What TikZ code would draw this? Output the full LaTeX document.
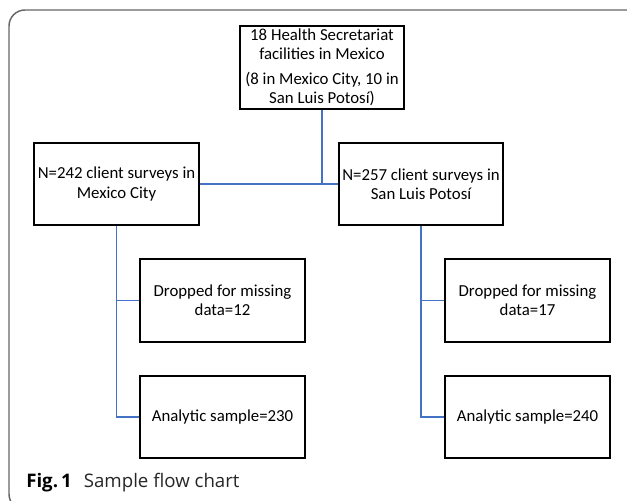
\documentclass[tikz,border=0pt]{standalone}
\usepackage{fontspec}
\setmainfont{Carlito}
\newfontfamily\capfont{Open Sans}
\begin{document}
\begin{tikzpicture}[x=0.75pt,y=-0.75pt,
  flowbox/.style={draw=black,line width=0.9pt,fill=white,align=center,
    inner sep=0pt,font=\fontsize{12.6pt}{14.4pt}\selectfont},
  link/.style={draw=linkblue,line width=0.9pt},
  frame/.style={draw=black!60,line width=1.1pt}]
\definecolor{linkblue}{HTML}{4472C4}
\useasboundingbox (0,0) rectangle (627,500);

% outer figure frame, open to the right and below
\draw[frame,rounded corners=12] (640,10) -- (9,10) -- (9,510) -- (40,510);

% boxes
\node[flowbox,minimum width=164*0.75pt,minimum height=83*0.75pt] (top) at (322,67.5)
  {18 Health Secretariat\\facilities in Mexico\\[4.5pt](8 in Mexico City, 10 in\\San Luis Potos\'{\i})};
\node[flowbox,minimum width=165*0.75pt,minimum height=82*0.75pt] (mx) at (116.5,184)
  {N=242 client surveys in\\Mexico City};
\node[flowbox,minimum width=164*0.75pt,minimum height=82*0.75pt] (slp) at (421,184)
  {N=257 client surveys in\\San Luis Potos\'{\i}};
\node[flowbox,minimum width=165*0.75pt,minimum height=83*0.75pt] (dropmx) at (222.5,300.5)
  {Dropped for missing\\data=12};
\node[flowbox,minimum width=165*0.75pt,minimum height=82*0.75pt] (anamx) at (222.5,417)
  {Analytic sample=230};
\node[flowbox,minimum width=165*0.75pt,minimum height=83*0.75pt] (dropslp) at (527.5,300.5)
  {Dropped for missing\\data=17};
\node[flowbox,minimum width=165*0.75pt,minimum height=82*0.75pt] (anaslp) at (527.5,417)
  {Analytic sample=240};

% connectors
\coordinate (split) at (top.south |- mx.east);
\draw[link] (top.south) -- (split);
\draw[link] (mx.east) -- (slp.west);
\draw[link] (mx.south) |- (anamx.west);
\draw[link] (mx.south |- dropmx.west) -- (dropmx.west);
\draw[link] (slp.south) |- (anaslp.west);
\draw[link] (slp.south |- dropslp.west) -- (dropslp.west);

% caption
\node[anchor=base west,inner sep=0pt,font=\capfont\fontsize{14pt}{16pt}\selectfont] (cap) at (26,487)
  {\textbf{Fig.\,1}\hspace{9pt}\color{black!85}Sample flow chart};
\end{tikzpicture}
\end{document}
